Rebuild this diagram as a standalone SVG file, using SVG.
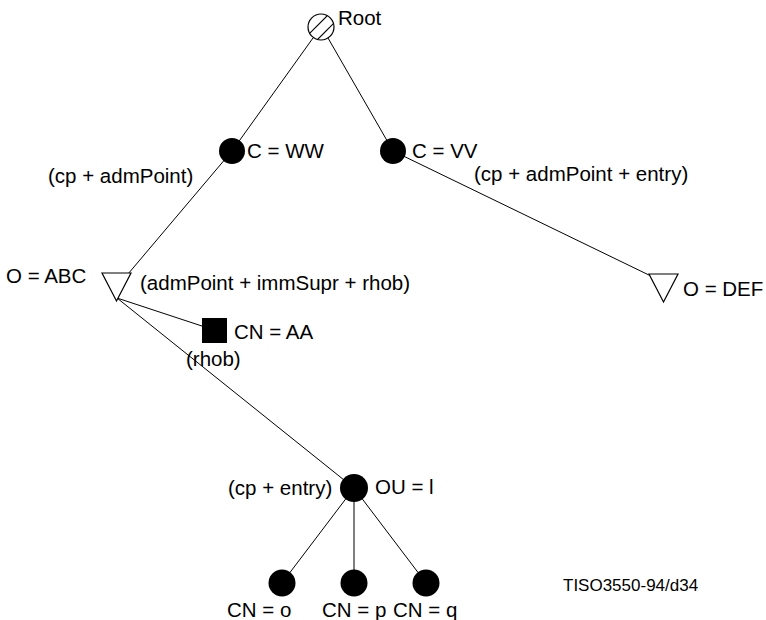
<svg xmlns="http://www.w3.org/2000/svg" width="766" height="620" viewBox="0 0 766 620">
<style>
text{font-family:"Liberation Sans",Arial,sans-serif;font-size:20.5px;fill:#000}
.small{font-size:17px}
.edge{stroke:#000;stroke-width:1;fill:none}
.dot{fill:#000;stroke:none}
.tri{fill:#fff;stroke:#000;stroke-width:1.2}
</style>
<defs>
<clipPath id="rootClip"><circle cx="321" cy="27" r="13"/></clipPath>
</defs>
<rect width="766" height="620" fill="#fff"/>
<g id="connectors">
<line class="edge" x1="313" y1="38" x2="232" y2="151"/>
<line class="edge" x1="328" y1="38" x2="393" y2="151"/>
<line class="edge" x1="232" y1="151" x2="128" y2="274"/>
<line class="edge" x1="393" y1="151" x2="653" y2="277"/>
<line class="edge" x1="117" y1="298" x2="214" y2="330"/>
<line class="edge" x1="117" y1="298" x2="354" y2="488"/>
<line class="edge" x1="354" y1="488" x2="282" y2="583"/>
<line class="edge" x1="354" y1="488" x2="354" y2="583"/>
<line class="edge" x1="354" y1="488" x2="426" y2="583"/>
</g>
<g id="root">
<circle cx="321" cy="27" r="13" fill="#fff" stroke="#000" stroke-width="1.2"/>
<g clip-path="url(#rootClip)" stroke="#000" stroke-width="1.2">
<line x1="300" y1="43" x2="332" y2="11"/>
<line x1="308" y1="49" x2="340" y2="17"/>
</g>
<text x="338" y="25">Root</text>
</g>
<g id="c-ww">
<circle class="dot" cx="232" cy="151" r="13"/>
<text x="247" y="158">C = WW</text>
<text x="48" y="183">(cp + admPoint)</text>
</g>
<g id="c-vv">
<circle class="dot" cx="393" cy="151" r="13"/>
<text x="412" y="158">C = VV</text>
<text x="474" y="181">(cp + admPoint + entry)</text>
</g>
<g id="o-abc">
<polygon class="tri" points="102,273 131,273 116.5,301"/>
<text x="6" y="283">O = ABC</text>
<text x="140" y="290">(admPoint + immSupr + rhob)</text>
</g>
<g id="o-def">
<polygon class="tri" points="649,274 678,274 663.5,302"/>
<text x="683" y="296">O = DEF</text>
</g>
<g id="cn-aa">
<rect class="dot" x="202" y="318" width="25" height="25"/>
<text x="234" y="339">CN = AA</text>
<text x="186" y="366">(rhob)</text>
</g>
<g id="ou-l">
<circle class="dot" cx="354" cy="488" r="14"/>
<text x="375" y="494">OU = l</text>
<text x="228" y="495">(cp + entry)</text>
</g>
<g id="cn-o">
<circle class="dot" cx="282" cy="583" r="13.5"/>
<text x="227" y="617">CN = o</text>
</g>
<g id="cn-p">
<circle class="dot" cx="354" cy="583" r="13.5"/>
<text x="322" y="617">CN = p</text>
</g>
<g id="cn-q">
<circle class="dot" cx="426" cy="583" r="13.5"/>
<text x="393" y="617">CN = q</text>
</g>
<g id="figure-id">
<text class="small" x="563" y="591">TISO3550-94/d34</text>
</g>
</svg>
